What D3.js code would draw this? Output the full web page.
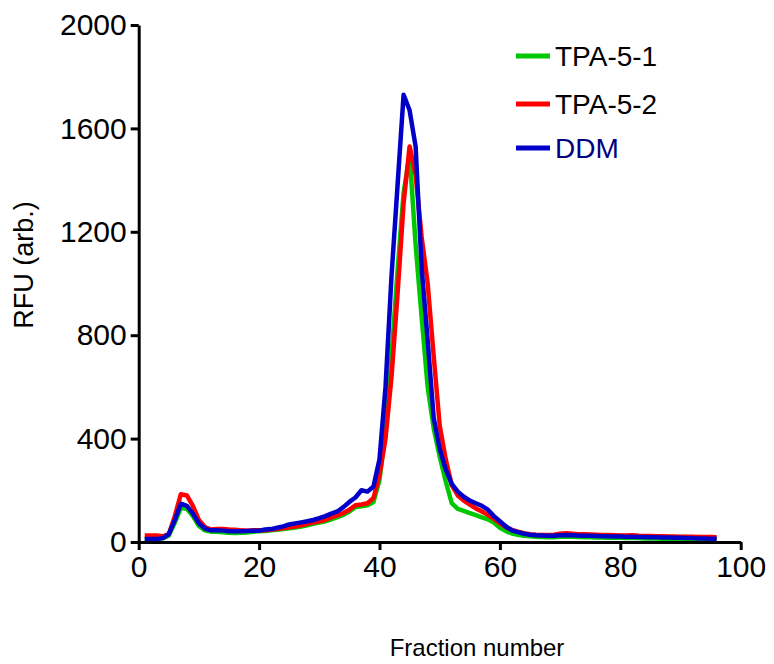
<!DOCTYPE html>
<html>
<head>
<meta charset="utf-8">
<script src="https://cdn.jsdelivr.net/npm/d3@7"></script>
<style>
  body { margin: 0; background: #fff; }
  text { font-family: Arial, "Liberation Sans", sans-serif; }
</style>
</head>
<body>
<div id="chart"></div>
<script>
// fraction numbers 1..96
var fractions = d3.range(1, 97);

var tpa51 = [10, 10, 12, 14, 25, 75, 132, 128, 100, 62,
    45, 40, 40, 38, 36, 35, 36, 37, 40, 42,
    43, 45, 47, 50, 53, 56, 60, 65, 70, 75,
    80, 88, 96, 105, 118, 135, 138, 142, 155, 240,
    430, 720, 1050, 1350, 1500, 1150, 870, 600, 440, 330,
    235, 150, 128, 120, 112, 104, 95, 88, 75, 55,
    42, 33, 28, 24, 22, 20, 19, 18, 18, 20,
    20, 20, 19, 18, 18, 17, 17, 16, 16, 16,
    15, 15, 15, 14, 14, 14, 13, 13, 13, 12,
    12, 12, 12, 11, 11, 11];

var tpa52 = [25, 25, 25, 22, 30, 100, 185, 180, 140, 85,
    58, 48, 50, 50, 48, 47, 45, 44, 45, 45,
    45, 48, 50, 53, 57, 60, 65, 70, 75, 80,
    85, 95, 103, 112, 125, 142, 145, 150, 170, 260,
    400, 640, 960, 1310, 1530, 1420, 1180, 1000, 720, 450,
    320, 220, 180, 160, 145, 130, 118, 105, 90, 72,
    58, 47, 40, 34, 30, 28, 27, 27, 28, 32,
    34, 32, 30, 30, 29, 28, 27, 27, 26, 25,
    25, 26, 24, 23, 23, 22, 22, 21, 21, 20,
    20, 20, 19, 19, 19, 18];

var ddm = [12, 12, 12, 15, 30, 85, 148, 140, 110, 72,
    52, 45, 45, 44, 42, 42, 42, 43, 44, 44,
    48, 50, 55, 60, 68, 72, 76, 80, 85, 92,
    100, 110, 118, 135, 155, 172, 200, 195, 215, 320,
    600, 1030, 1380, 1730, 1670, 1530, 1060, 780, 480, 360,
    280, 225, 195, 175, 160, 150, 140, 125, 100, 80,
    60, 45, 38, 32, 28, 26, 25, 24, 24, 26,
    27, 26, 25, 24, 24, 23, 22, 22, 21, 21,
    20, 20, 19, 19, 18, 18, 17, 17, 16, 16,
    15, 15, 14, 14, 13, 13];

var seriesNames = ["TPA-5-1", "TPA-5-2", "DDM"];
var seriesColors = ["#00c800", "#ff0000", "#0000c8"];
var labelColors = ["#000", "#000", "#000080"];
var xTicks = [0, 20, 40, 60, 80, 100];
var yTicks = [0, 400, 800, 1200, 1600, 2000];

var W = 774, H = 664,
    margin = { top: 25, left: 138.7, right: 33.3, bottom: 122 },
    width = W - margin.left - margin.right,
    height = H - margin.top - margin.bottom;

var svg = d3.select("#chart").append("svg")
    .attr("width", W)
    .attr("height", H);

var g = svg.append("g")
    .attr("transform", "translate(" + margin.left + "," + margin.top + ")");

var x = d3.scaleLinear().domain([0, 100]).range([0, width]),
    y = d3.scaleLinear().domain([0, 2000]).range([height, 0]);

var line = d3.line()
    .x(function (d) { return x(d[0]); })
    .y(function (d) { return y(d[1]); });

[tpa51, tpa52, ddm].forEach(function (vals, i) {
    g.append("path")
        .datum(fractions.map(function (f, j) { return [f, vals[j]]; }))
        .attr("fill", "none")
        .attr("stroke", seriesColors[i])
        .attr("stroke-width", 4.5)
        .attr("stroke-linejoin", "round")
        .attr("d", line);
});

var xAxis = g.append("g")
    .attr("transform", "translate(0," + height + ")")
    .call(d3.axisBottom(x).tickValues(xTicks).tickFormat(d3.format("d"))
        .tickSize(8).tickPadding(6).tickSizeOuter(0));

var yAxis = g.append("g")
    .call(d3.axisLeft(y).tickValues(yTicks).tickFormat(d3.format("d"))
        .tickSize(8).tickPadding(4).tickSizeOuter(0));

[xAxis, yAxis].forEach(function (a) {
    a.select(".domain").attr("stroke-width", 3);
    a.selectAll(".tick line").attr("stroke-width", 3);
    a.selectAll(".tick text")
        .attr("font-size", 30)
        .attr("font-family", "Arial, 'Liberation Sans', sans-serif")
        .attr("fill", "#000");
});

svg.append("text")
    .attr("transform", "translate(33," + 265 + ") rotate(-90)")
    .attr("text-anchor", "middle")
    .attr("font-size", 27)
    .text("RFU (arb.)");

svg.append("text")
    .attr("x", 477)
    .attr("y", 656)
    .attr("text-anchor", "middle")
    .attr("font-size", 24)
    .text("Fraction number");

var legendY = [56, 104, 148];
seriesNames.forEach(function (name, i) {
    svg.append("line")
        .attr("x1", 516).attr("x2", 550)
        .attr("y1", legendY[i]).attr("y2", legendY[i])
        .attr("stroke", seriesColors[i])
        .attr("stroke-width", 5);
    svg.append("text")
        .attr("x", 555)
        .attr("y", legendY[i] + 10)
        .attr("font-size", 28)
        .attr("fill", labelColors[i])
        .text(name);
});
</script>
</body>
</html>
